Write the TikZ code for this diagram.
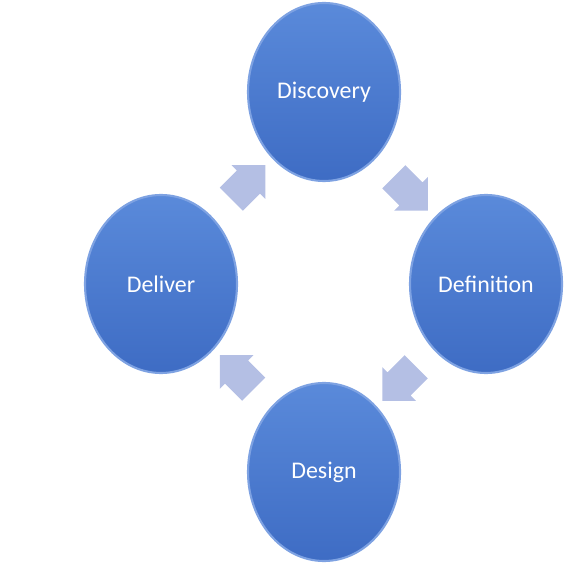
\documentclass[tikz,border=0pt]{standalone}
\usepackage{fontspec}
\setmainfont{Carlito}
\usetikzlibrary{shapes.geometric, shapes.arrows, calc}
\definecolor{disctop}{HTML}{5A8ADA}
\definecolor{discbot}{HTML}{3E6CC4}
\definecolor{discrim}{HTML}{7EA2E2}
\definecolor{arrowgray}{HTML}{B4BFE4}
\tikzset{
    phase/.style={ellipse, minimum width=3.04cm, minimum height=3.56cm, inner sep=0pt,
        top color=disctop, bottom color=discbot, draw=discrim, line width=1.2pt,
        text=white, font=\fontsize{13.6}{16}\selectfont},
    blockarrow/.style={single arrow, fill=arrowgray, draw=none, minimum height=0.96cm,
        single arrow head extend=0.15cm, inner xsep=0pt, inner ysep=0.32cm},
}
\begin{document}
\begin{tikzpicture}
    \useasboundingbox (0,0) rectangle (11.3,-11.3);
    \node[phase] (discovery) at (6.48, -1.84) {Discovery};
    \node[phase] (definition) at (9.72, -5.68) {Definition};
    \node[phase] (design) at (6.48, -9.44) {Design};
    \node[phase] (deliver) at (3.22, -5.68) {Deliver};
    \node[blockarrow, rotate=45] (a1) at ($(deliver)!0.5!(discovery)$) {};
    \node[blockarrow, rotate=-45] (a2) at ($(discovery)!0.5!(definition)$) {};
    \node[blockarrow, rotate=-135] (a3) at ($(definition)!0.5!(design)$) {};
    \node[blockarrow, rotate=135] (a4) at ($(design)!0.5!(deliver)$) {};
\end{tikzpicture}
\end{document}
